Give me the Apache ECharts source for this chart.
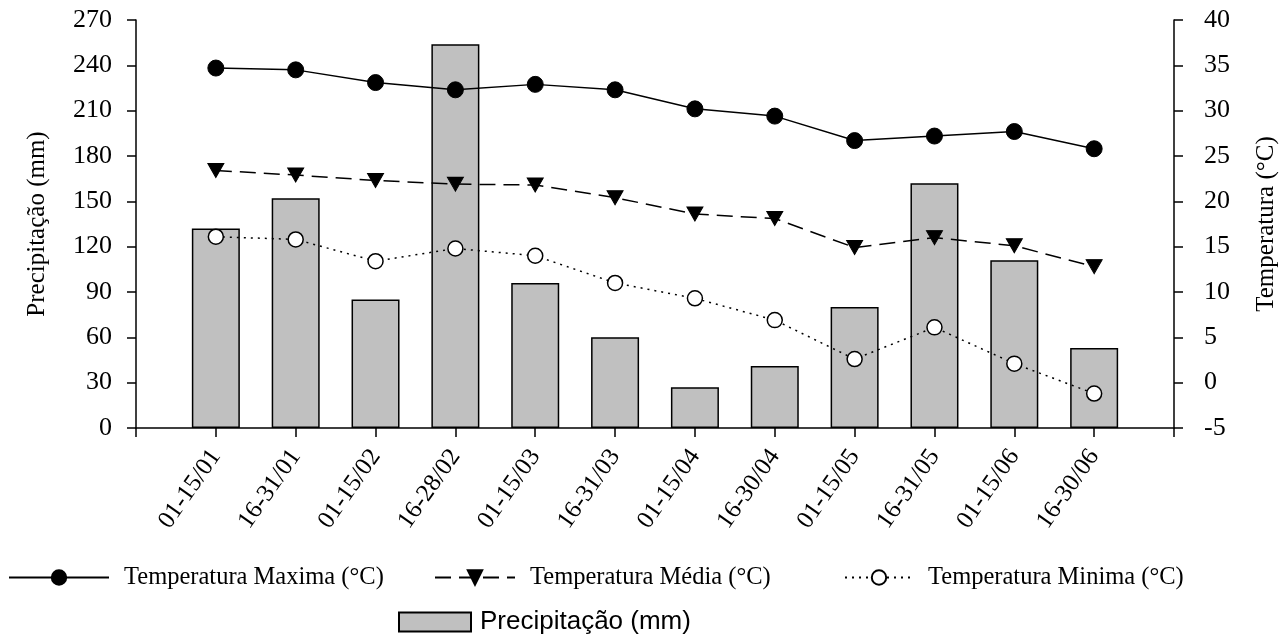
<!DOCTYPE html>
<html>
<head>
<meta charset="utf-8">
<script src="https://cdn.jsdelivr.net/npm/echarts@6/dist/echarts.min.js"></script>
<style>html,body{margin:0;padding:0;background:#fff}#c{width:1287px;height:640px}</style>
</head>
<body>
<div id="c"></div>
<script>
const categories = ['01-15/01','16-31/01','01-15/02','16-28/02','01-15/03','16-31/03','01-15/04','16-30/04','01-15/05','16-31/05','01-15/06','16-30/06'];
const precip = [132,152,85,254,96,60,27,41,80,162,111,53];
const tMax = [34.7,34.5,33.1,32.3,32.9,32.3,30.2,29.4,26.7,27.2,27.7,25.8];
const tMed = [23.4,22.9,22.3,21.9,21.8,20.4,18.6,18.1,14.9,16.0,15.1,12.8];
const tMin = [16.1,15.8,13.4,14.8,14.0,11.0,9.3,6.9,2.6,6.1,2.1,-1.2];
const leftTicks = {min:0,max:270,interval:30};
const rightTicks = {min:-5,max:40,interval:5};

const serif = 'Liberation Serif';
const pair = arr => arr.map((v,i)=>[i,v]);
const chart = echarts.init(document.getElementById('c'), null, {renderer:'canvas'});
const axisLine = {show:true, onZero:false, lineStyle:{color:'#000', width:1.5}};
const axisTick = {show:true, inside:false, length:9, lineStyle:{color:'#000', width:1.5}};
const legendBase = {orient:'horizontal', padding:0, itemHeight:18,
  textStyle:{fontFamily:serif, fontSize:24.5, color:'#000', padding:[0,0,0,10]}};
chart.setOption({
  animation:false,
  grid:{left:136, right:111, top:20, bottom:212, containLabel:false},
  xAxis:{type:'value', min:-1, max:12, interval:1,
    axisLine:axisLine, axisTick:axisTick, splitLine:{show:false},
    axisLabel:{rotate:55, margin:24, fontFamily:serif, fontSize:25, color:'#000',
      formatter:v=>categories[v]||''}},
  yAxis:[
    {type:'value', position:'left', min:leftTicks.min, max:leftTicks.max, interval:leftTicks.interval,
     name:'Precipitação (mm)', nameLocation:'middle', nameGap:86, nameRotate:90,
     nameTextStyle:{fontFamily:serif, fontSize:25, color:'#000'},
     axisLine:axisLine, axisTick:axisTick, splitLine:{show:false},
     axisLabel:{margin:24, fontFamily:serif, fontSize:26, color:'#000'}},
    {type:'value', position:'right', min:rightTicks.min, max:rightTicks.max, interval:rightTicks.interval,
     name:'Temperatura (°C)', nameLocation:'middle', nameGap:80, nameRotate:90,
     nameTextStyle:{fontFamily:serif, fontSize:25, color:'#000'},
     axisLine:axisLine, axisTick:axisTick, splitLine:{show:false},
     axisLabel:{margin:30, fontFamily:serif, fontSize:26, color:'#000'}}
  ],
  legend:[
    Object.assign({}, legendBase, {left:8, top:565, itemWidth:100, data:['Temperatura Maxima (°C)']}),
    Object.assign({}, legendBase, {left:434, top:565, itemWidth:80, data:['Temperatura Média (°C)']}),
    Object.assign({}, legendBase, {left:844, top:565, itemWidth:68, data:['Temperatura Minima (°C)']}),
    {left:398, top:609, padding:0, itemWidth:72, itemHeight:19, icon:'rect',
     textStyle:{fontFamily:'Liberation Sans', fontSize:26, color:'#000', padding:[0,0,0,4]},
     data:['Precipitação (mm)']}
  ],
  series:[
    {name:'Precipitação (mm)', type:'bar', yAxisIndex:0, barWidth:48, z:1,
     itemStyle:{color:'#c0c0c0', borderColor:'#000', borderWidth:1.5},
     data:pair(precip)},
    {name:'Temperatura Maxima (°C)', type:'line', yAxisIndex:1, z:3,
     symbol:'circle', symbolSize:16,
     lineStyle:{color:'#000', width:1.5, type:'solid'},
     itemStyle:{color:'#000', borderColor:'#000', borderWidth:1},
     data:pair(tMax)},
    {name:'Temperatura Média (°C)', type:'line', yAxisIndex:1, z:3,
     symbol:'triangle', symbolSize:[16,14], symbolRotate:180,
     lineStyle:{color:'#000', width:1.5, type:[16,8]},
     itemStyle:{color:'#000', borderColor:'#000', borderWidth:1},
     data:pair(tMed)},
    {name:'Temperatura Minima (°C)', type:'line', yAxisIndex:1, z:3,
     symbol:'circle', symbolSize:15,
     lineStyle:{color:'#000', width:1.5, type:[2,5]},
     itemStyle:{color:'#fff', borderColor:'#000', borderWidth:1.5},
     data:pair(tMin)}
  ]
});
</script>
</body>
</html>
